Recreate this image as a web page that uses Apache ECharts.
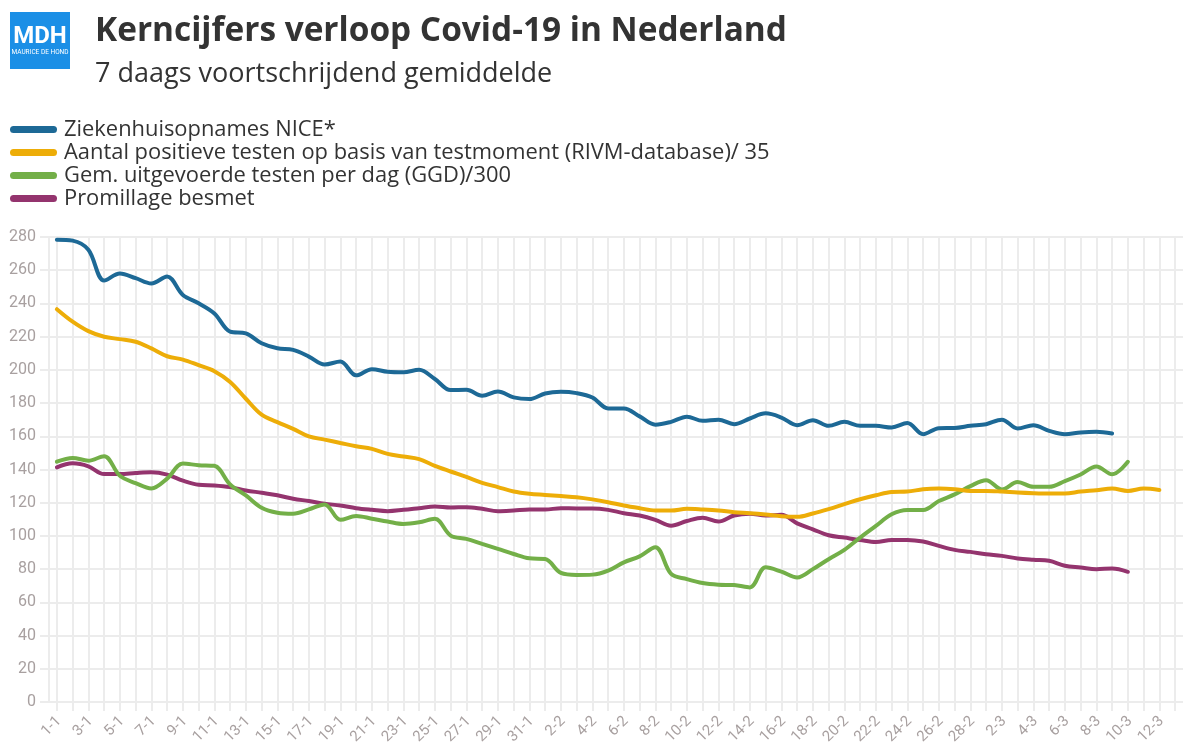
<!DOCTYPE html>
<html>
<head>
<meta charset="utf-8">
<script src="https://cdn.jsdelivr.net/npm/echarts@6/dist/echarts.min.js"></script>
<style>
html,body{margin:0;padding:0;background:#fff;}
#chart{width:1204px;height:743px;}
</style>
</head>
<body>
<div id="chart"></div>
<script>
const categories = [
  '1-1','2-1','3-1','4-1','5-1','6-1','7-1','8-1','9-1','10-1',
  '11-1','12-1','13-1','14-1','15-1','16-1','17-1','18-1','19-1','20-1',
  '21-1','22-1','23-1','24-1','25-1','26-1','27-1','28-1','29-1','30-1','31-1',
  '1-2','2-2','3-2','4-2','5-2','6-2','7-2','8-2','9-2','10-2',
  '11-2','12-2','13-2','14-2','15-2','16-2','17-2','18-2','19-2','20-2',
  '21-2','22-2','23-2','24-2','25-2','26-2','27-2','28-2',
  '1-3','2-3','3-3','4-3','5-3','6-3','7-3','8-3','9-3','10-3','11-3','12-3','13-3'
];

const seriesNames = [
  'Ziekenhuisopnames NICE*',
  'Aantal positieve testen op basis van testmoment (RIVM-database)/ 35',
  'Gem. uitgevoerde testen per dag (GGD)/300',
  'Promillage besmet'
];

const ziekenhuis = [
  278.4, 277.8, 272.3, 253.8, 258, 255.2, 252, 256.2, 245.1, 240.1,
  234, 223, 222, 216, 213, 212, 208, 203.2, 205, 196.7,
  200.4, 198.8, 198.5, 200, 194.5, 187.8, 188, 184.4, 187, 183.4,
  182.4, 185.8, 186.8, 186, 183.4, 176.8, 176.8, 172, 167, 168.7,
  171.8, 169.3, 170, 167.3, 170.7, 173.8, 171.3, 166.7, 169.7, 166.3,
  168.7, 166.3, 166.3, 165.3, 168, 161.3, 164.9, 165, 166.3, 167.3,
  170, 164.7, 166.7, 163.3, 161.3, 162.3, 162.7, 161.7
];

const positieveTesten = [
  236.5, 229, 223.3, 219.9, 218.5, 216.9, 212.9, 208.2, 206.2, 202.8,
  199.2, 192.7, 182.6, 173, 168.5, 164.5, 159.9, 158, 156, 154,
  152.4, 149.4, 147.8, 146.2, 142.2, 138.8, 135.5, 132, 129.4, 126.8,
  125.4, 124.7, 124, 123.3, 122, 120.3, 118.3, 116.7, 115.3, 115.3,
  116.3, 115.9, 115.3, 114.3, 113.7, 112.9, 111.9, 111.5, 113.5, 116.1,
  119.1, 122.1, 124.5, 126.5, 126.7, 128.1, 128.5, 128.1, 127.1, 127.1,
  126.7, 126.1, 125.7, 125.5, 125.5, 126.7, 127.5, 128.5, 127.1, 128.5, 127.7
];

const uitgevoerdeTesten = [
  144.7, 147, 145.3, 148, 136.2, 131.8, 128.6, 134.5, 143.6, 142.6,
  142.2, 131, 124.4, 117, 114, 113.4, 116, 119, 109.7, 112,
  110.4, 108.7, 107.2, 108.2, 110.3, 100.2, 98.2, 95.2, 92.2, 89.1,
  86.5, 86.1, 77.7, 76.5, 76.7, 79.1, 84.1, 87.7, 93.2, 77.1,
  74, 71.6, 70.6, 70.4, 69, 81.1, 78.5, 75, 80, 86,
  91.6, 99, 106, 113, 115.6, 115.6, 121, 125, 130, 133.6,
  128, 132.5, 129.6, 129.6, 133, 137, 141.8, 137.1, 144.6
];

const promillage = [
  141.3, 143.7, 141.9, 137.3, 137.3, 137.9, 138.3, 136.9, 133.3, 130.8,
  130.4, 129.4, 127.4, 126, 124.5, 122.4, 121, 119.4, 118.3, 116.7,
  115.7, 114.9, 115.7, 116.7, 117.7, 117.1, 117.3, 116.3, 114.9, 115.3,
  115.9, 115.9, 116.7, 116.5, 116.5, 115.7, 113.7, 112.3, 109.7, 106.2,
  109, 111, 108.7, 112.3, 113.4, 112.3, 112.7, 107.6, 104, 100.4,
  99, 97.6, 96.4, 97.6, 97.6, 96.6, 94, 91.6, 90.4, 89,
  88, 86.4, 85.6, 85, 82, 81, 80, 80.4, 78.4
];

const colors = ['#1D6996', '#EDAD08', '#73AF48', '#94346E'];
const gridColor = '#ececec';
const labelColor = '#a8a0a0';
const axisFont = 'Roboto';
const textFont = 'Open Sans';
const pill = 'path://M3.5,0 H43.5 A3.5,3.5 0 0 1 43.5,7 H3.5 A3.5,3.5 0 0 1 3.5,0 Z';

const dataSets = [ziekenhuis, positieveTesten, uitgevoerdeTesten, promillage];

const chart = echarts.init(document.getElementById('chart'), null, {renderer: 'canvas'});
chart.setOption({
  animation: false,
  color: colors,
  textStyle: {fontFamily: textFont},
  graphic: [{
    type: 'group', left: 10, top: 12,
    children: [
      {type: 'rect', shape: {x: 0, y: 0, width: 60, height: 57}, style: {fill: '#1b8fe6'}},
      {type: 'text', x: 30, y: 25, style: {text: 'MDH', fill: '#fff', font: 'bold 24px Roboto', align: 'center', verticalAlign: 'middle'}},
      {type: 'text', x: 30, y: 40, style: {text: 'MAURICE DE HOND', fill: '#fff', font: '6.5px Roboto', align: 'center', verticalAlign: 'middle'}}
    ]
  }],
  title: [
    {text: 'Kerncijfers verloop Covid-19 in Nederland', left: 95, top: 12, padding: 0,
     textStyle: {fontFamily: textFont, fontWeight: 'bold', fontSize: 33.4, color: '#333', lineHeight: 38}},
    {text: '7 daags voortschrijdend gemiddelde', left: 95, top: 59, padding: 0,
     textStyle: {fontFamily: textFont, fontWeight: 'normal', fontSize: 27, color: '#333', lineHeight: 30}}
  ],
  legend: {
    orient: 'vertical', left: 10, top: 118, padding: 0,
    itemWidth: 47, itemHeight: 7, itemGap: 0,
    icon: pill,
    textStyle: {fontFamily: textFont, fontSize: 21.9, color: '#333', lineHeight: 23, padding: [0, 0, 0, 2]},
    data: seriesNames
  },
  grid: {left: 49, right: 21, top: 237, bottom: 41, containLabel: false, outerBoundsMode: 'none'},
  xAxis: {
    type: 'category',
    data: categories,
    boundaryGap: true,
    axisLine: {show: false},
    axisTick: {show: true, alignWithLabel: true, interval: 0, length: 9, lineStyle: {color: gridColor, width: 2}},
    splitLine: {show: true, alignWithLabel: true, interval: 0, lineStyle: {color: gridColor, width: 2}},
    axisLabel: {interval: 1, rotate: 45, color: labelColor, fontSize: 15, fontFamily: axisFont, margin: 19, padding: [6, -3, 0, 0]}
  },
  yAxis: {
    type: 'value', min: 0, max: 280, interval: 20,
    axisLine: {show: true, lineStyle: {color: gridColor, width: 2}},
    axisTick: {show: true, length: 9, lineStyle: {color: gridColor, width: 2}},
    splitLine: {show: true, lineStyle: {color: gridColor, width: 2}},
    axisLabel: {color: labelColor, fontSize: 16, fontFamily: axisFont, margin: 13}
  },
  series: seriesNames.map((name, k) => ({
    name: name,
    type: 'line',
    data: dataSets[k],
    smooth: 0.35,
    showSymbol: false,
    symbol: 'none',
    lineStyle: {width: 4, color: colors[k], cap: 'round'},
    itemStyle: {color: colors[k]},
    z: 10 - k
  }))
});
</script>
</body>
</html>
